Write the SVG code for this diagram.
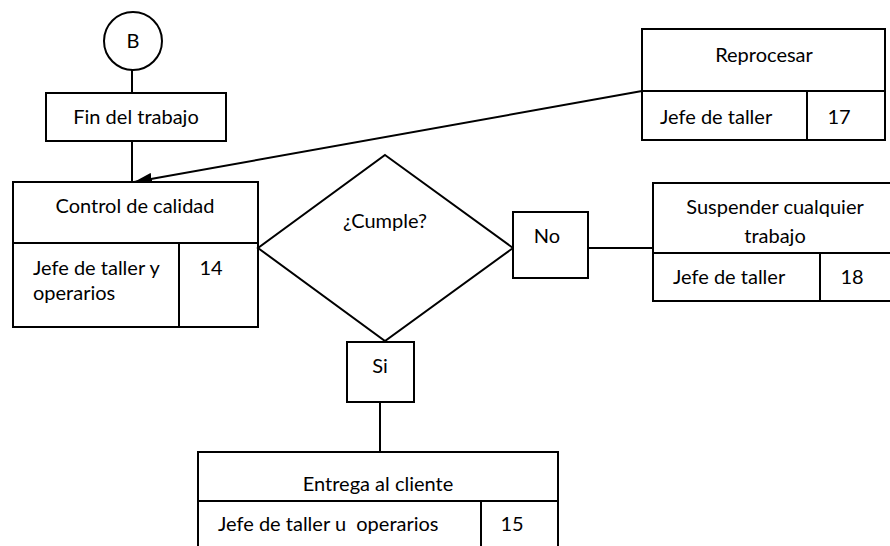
<svg xmlns="http://www.w3.org/2000/svg" width="890" height="546" viewBox="0 0 890 546">
  <style>
    .shape { fill: #ffffff; stroke: #000000; stroke-width: 2; }
    .line { fill: none; stroke: #000000; stroke-width: 2; }
    text { font-family: Lato, "Liberation Sans", sans-serif; font-size: 20px; fill: #000000; }
    .c { text-anchor: middle; }
    .pre { white-space: pre; }
  </style>
  <defs>
    <marker id="arrowhead" viewBox="0 0 18 12" refX="18" refY="6" markerWidth="18" markerHeight="12" markerUnits="userSpaceOnUse" orient="auto">
      <path d="M0,0 L18,6 L0,12 Z" fill="#000000"/>
    </marker>
  </defs>

  <rect width="890" height="546" fill="#ffffff"/>

  <!-- connectors -->
  <g id="connectors">
    <line class="line" x1="132" y1="70" x2="132" y2="93"/>
    <line class="line" x1="132" y1="141" x2="132" y2="182"/>
    <line class="line" x1="642" y1="91" x2="134" y2="182" marker-end="url(#arrowhead)"/>
    <line class="line" x1="588" y1="248" x2="653" y2="248"/>
    <line class="line" x1="380" y1="402" x2="380" y2="452"/>
  </g>

  <!-- connector B -->
  <g id="node-b">
    <circle class="shape" cx="133" cy="41" r="29"/>
    <text class="c" x="133" y="48">B</text>
  </g>

  <!-- Fin del trabajo -->
  <g id="node-fin">
    <rect class="shape" x="46" y="93" width="180" height="48"/>
    <text class="c" x="136" y="124">Fin del trabajo</text>
  </g>

  <!-- Control de calidad -->
  <g id="node-control">
    <rect class="shape" x="13" y="182" width="245" height="145"/>
    <line class="line" x1="13" y1="243" x2="258" y2="243"/>
    <line class="line" x1="179" y1="243" x2="179" y2="327"/>
    <text class="c" x="135" y="213">Control de calidad</text>
    <text x="33" y="275">Jefe de taller y</text>
    <text x="33" y="300">operarios</text>
    <text class="c" x="211" y="275">14</text>
  </g>

  <!-- decision -->
  <g id="node-cumple">
    <polygon class="shape" points="385,155 513,248 385,341 258,248"/>
    <text class="c" x="385" y="228">¿Cumple?</text>
  </g>

  <!-- No label box -->
  <g id="node-no">
    <rect class="shape" x="513" y="212" width="75" height="66"/>
    <text class="c" x="547" y="243">No</text>
  </g>

  <!-- Si label box -->
  <g id="node-si">
    <rect class="shape" x="347" y="342" width="67" height="60"/>
    <text class="c" x="380" y="373">Si</text>
  </g>

  <!-- Reprocesar -->
  <g id="node-reprocesar">
    <rect class="shape" x="642" y="29" width="243" height="111"/>
    <line class="line" x1="642" y1="91" x2="885" y2="91"/>
    <line class="line" x1="807" y1="91" x2="807" y2="140"/>
    <text class="c" x="764" y="62">Reprocesar</text>
    <text x="660" y="124">Jefe de taller</text>
    <text class="c" x="839" y="124">17</text>
  </g>

  <!-- Suspender cualquier trabajo -->
  <g id="node-suspender">
    <rect class="shape" x="653" y="183" width="245" height="118"/>
    <line class="line" x1="653" y1="253" x2="898" y2="253"/>
    <line class="line" x1="820" y1="253" x2="820" y2="301"/>
    <text class="c" x="775" y="214">Suspender cualquier</text>
    <text class="c" x="775" y="243">trabajo</text>
    <text x="673" y="284">Jefe de taller</text>
    <text class="c" x="852" y="284">18</text>
  </g>

  <!-- Entrega al cliente -->
  <g id="node-entrega">
    <rect class="shape" x="198" y="452" width="360" height="110"/>
    <line class="line" x1="198" y1="501" x2="558" y2="501"/>
    <line class="line" x1="481" y1="501" x2="481" y2="562"/>
    <text class="c" x="378" y="491">Entrega al cliente</text>
    <text class="pre" x="218" y="531" xml:space="preserve">Jefe de taller u  operarios</text>
    <text class="c" x="512" y="531">15</text>
  </g>
</svg>
